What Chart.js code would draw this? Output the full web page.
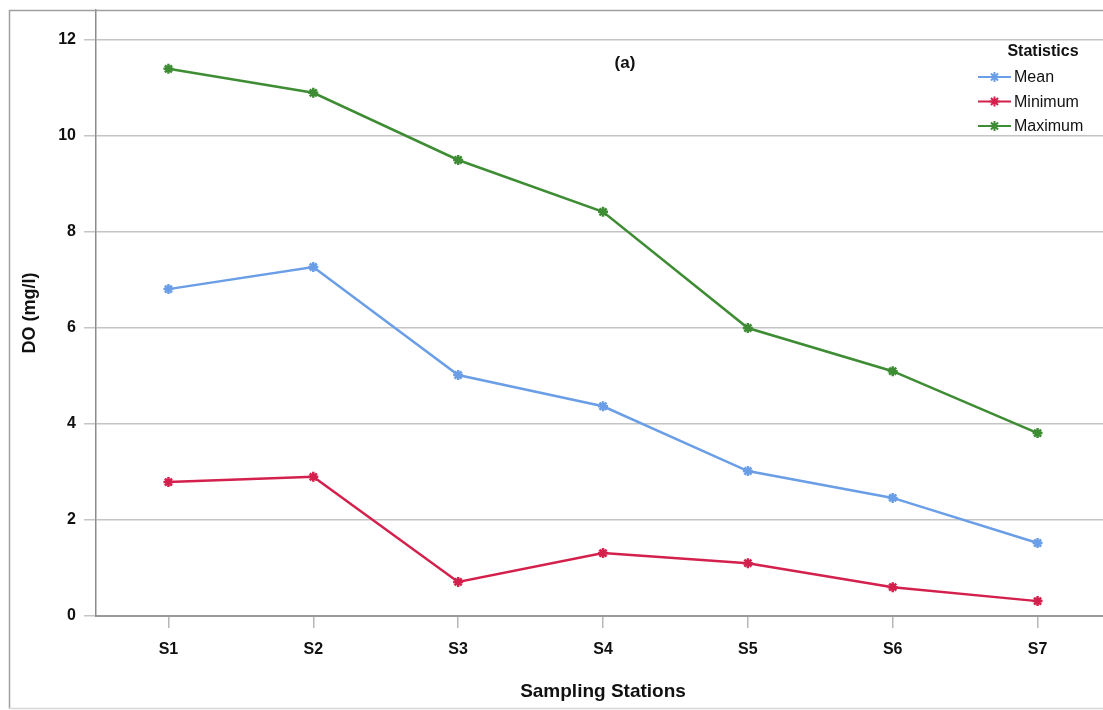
<!DOCTYPE html>
<html>
<head>
<meta charset="utf-8">
<script src="https://cdn.jsdelivr.net/npm/chart.js@4.4.1/dist/chart.umd.min.js"></script>
<style>
    html, body { margin: 0; padding: 0; background: #fff; overflow: hidden; }
    #wrap { width: 1120px; height: 710px; }
</style>
</head>
<body>
<div id="wrap"><canvas id="doChart" width="1120" height="710"></canvas></div>
<script>
const stations = ['S1', 'S2', 'S3', 'S4', 'S5', 'S6', 'S7'];
const meanDO = [6.81, 7.27, 5.02, 4.37, 3.02, 2.46, 1.52];
const minDO = [2.79, 2.90, 0.71, 1.31, 1.10, 0.60, 0.31];
const maxDO = [11.40, 10.90, 9.50, 8.42, 6.00, 5.10, 3.81];
const yTicks = [0, 2, 4, 6, 8, 10, 12];

const narrow = '"Liberation Sans Narrow", "Arial Narrow", "Liberation Sans", Arial, sans-serif';
const wide = '"Liberation Sans", Arial, sans-serif';

function series(label, data, color) {
    return {
        label: label,
        data: data,
        borderColor: color,
        backgroundColor: color,
        borderWidth: 2.5,
        pointStyle: 'star',
        pointRadius: 5,
        pointBorderWidth: 2.5,
        pointHoverRadius: 5,
        tension: 0
    };
}

// outer frame, panel label and the legend block in the top right corner
const decorations = {
    id: 'decorations',
    afterDraw(chart) {
        const ctx = chart.ctx;
        ctx.save();
        ctx.strokeStyle = '#a0a0a0';
        ctx.lineWidth = 1.5;
        ctx.beginPath();
        ctx.moveTo(9.5, 708.5);
        ctx.lineTo(9.5, 10.5);
        ctx.lineTo(chart.width, 10.5);
        ctx.stroke();
        ctx.strokeStyle = '#d8d8d8';
        ctx.beginPath();
        ctx.moveTo(9.5, 708.5);
        ctx.lineTo(chart.width, 708.5);
        ctx.stroke();

        ctx.fillStyle = '#111';
        ctx.textAlign = 'center';
        ctx.textBaseline = 'middle';
        ctx.font = 'bold 17px ' + narrow;
        ctx.fillText('(a)', 625, 63);

        ctx.font = 'bold 16px ' + narrow;
        ctx.fillText('Statistics', 1043, 52);

        ctx.font = '16px ' + narrow;
        ctx.textAlign = 'left';
        chart.data.datasets.forEach(function(ds, i) {
            const y = 77 + i * 24.5;
            ctx.strokeStyle = ds.borderColor;
            ctx.lineWidth = 2;
            ctx.beginPath();
            ctx.moveTo(978, y);
            ctx.lineTo(1011, y);
            ctx.stroke();
            ctx.fillStyle = ds.borderColor;
            Chart.helpers.drawPoint(ctx, {
                pointStyle: 'star',
                radius: 5,
                rotation: 0,
                borderWidth: 2
            }, 994.5, y);
            ctx.fillStyle = '#111';
            ctx.fillText(ds.label, 1014, y + 1);
        });
        ctx.restore();
    }
};

const config = {
    type: 'line',
    data: {
        labels: stations,
        datasets: [
            series('Mean', meanDO, '#6a9ee6'),
            series('Minimum', minDO, '#d3204c'),
            series('Maximum', maxDO, '#3e8c34')
        ]
    },
    options: {
        responsive: false,
        animation: false,
        layout: {
            padding: { top: 10, right: 10, left: 0, bottom: 0 }
        },
        plugins: {
            legend: { display: false },
            tooltip: { enabled: false }
        },
        scales: {
            x: {
                offset: true,
                afterFit(scale) {
                    scale.height = 94;
                    scale.paddingLeft = 0;
                    scale.paddingRight = 0;
                },
                grid: {
                    drawOnChartArea: false,
                    drawTicks: true,
                    tickLength: 12,
                    tickColor: '#b8b8b8',
                    lineWidth: 1.5
                },
                border: { color: '#9a9a9a', width: 2 },
                ticks: {
                    color: '#111',
                    padding: 12,
                    font: { family: narrow, size: 16, weight: 'bold' }
                },
                title: {
                    display: true,
                    text: 'Sampling Stations',
                    color: '#111',
                    padding: { top: 0, bottom: 7 },
                    font: { family: wide, size: 19, weight: 'bold' }
                }
            },
            y: {
                min: 0,
                max: 12.625,
                afterFit(scale) {
                    scale.width = 96;
                    scale.paddingTop = 0;
                    scale.paddingBottom = 0;
                },
                afterBuildTicks(scale) {
                    scale.ticks = yTicks.map(function(v) { return { value: v }; });
                },
                grid: {
                    color: '#c4c4c4',
                    lineWidth: 1.5,
                    tickLength: 12,
                    tickColor: '#c4c4c4'
                },
                border: { color: '#8c8c8c', width: 1.5 },
                ticks: {
                    color: '#111',
                    padding: 8,
                    font: { family: narrow, size: 16, weight: 'bold' }
                },
                title: {
                    display: true,
                    text: 'DO (mg/l)',
                    color: '#111',
                    padding: { top: 19, bottom: 0 },
                    font: { family: wide, size: 18, weight: 'bold' }
                }
            }
        }
    },
    plugins: [decorations]
};

new Chart(document.getElementById('doChart').getContext('2d'), config);
</script>
</body>
</html>
